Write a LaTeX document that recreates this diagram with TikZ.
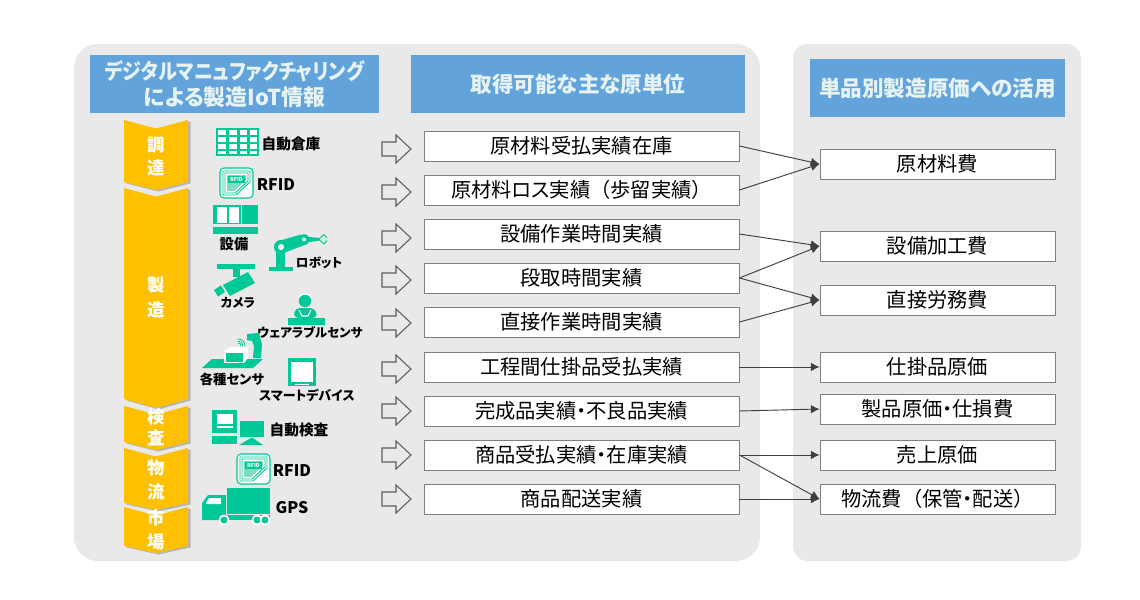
\documentclass[tikz,border=0pt]{standalone}
\usepackage{fontspec}
\setmainfont{Noto Sans CJK JP}[RawFeature={+palt}]
\newfontfamily\fwfont{Noto Sans CJK JP}
\usetikzlibrary{arrows.meta}
\definecolor{panel}{HTML}{E9E9E9}
\definecolor{hdr}{HTML}{62A3DC}
\definecolor{hdrtext}{HTML}{E6F3F2}
\definecolor{chevy}{HTML}{FFC000}
\definecolor{icong}{HTML}{00C896}
\definecolor{edge}{HTML}{7F7F7F}
\definecolor{linkc}{HTML}{404040}
\tikzset{
  panelbox/.style={fill=panel,draw=none},
  hdrbox/.style={fill=hdr,draw=none,inner sep=0pt,align=center,text=hdrtext,font=\fontsize{16.2}{20}\selectfont\bfseries},
  srcbox/.style={draw=edge,line width=.7pt,fill=white,minimum width=236.25pt,minimum height=22.5pt,inner sep=0pt,font=\fontsize{15.2}{18}\selectfont},
  dstbox/.style={draw=edge,line width=.7pt,fill=white,minimum width=176.25pt,minimum height=22.5pt,inner sep=0pt,font=\fontsize{15.2}{18}\selectfont},
  linkline/.style={draw=linkc,line width=.7pt,-{Latex[length=6.5pt,width=6.5pt]}},
  hollow/.style={draw=linkc!85,line width=.8pt,fill=panel},
  chevtext/.style={text=white,align=center,inner sep=0pt,font=\fontsize{13}{15}\selectfont\bfseries},
  iclabel/.style={text=black,inner sep=0pt,font=\fontsize{10}{12}\selectfont\bfseries},
  kanjilabel/.style={iclabel,font=\fontsize{11}{13}\selectfont\bfseries},
  latinlabel/.style={iclabel,font=\fontsize{12}{14}\selectfont\bfseries},
  kanalabel/.style={iclabel,font=\fontsize{9.4}{12}\selectfont\bfseries},
  ic/.style={fill=icong,draw=none},
  icw/.style={fill=white,draw=none},
  chevshadow/.style={fill=black!45,opacity=.55,draw=none},
}
\newcommand{\chevshape}[3]{%
  \fill[chevshadow] (126.5,#1+1.5)--(158.5,#1+10)--(190.5,#1+1.5)--(190.5,#2+1.5)--(158.5,#3+1.5)--(126.5,#2+1.5)--cycle;
  \fill[chevy] (124,#1)--(156,#1+8.5)--(188,#1)--(188,#2)--(156,#3)--(124,#2)--cycle;}
\newcommand{\rfidicon}[2]{%
  \begin{scope}[shift={(#1,#2)}]
    \fill[icw,rounded corners=3pt] (0,0) rectangle (33,30);
    \draw[icong,line width=.8pt,rounded corners=3pt] (0,0) rectangle (33,30);
    \draw[icong,line width=.7pt] (3,3)--(30,3)--(30,14)--(16,27)--(3,27)--cycle;
    \draw[icong,line width=.7pt] (5,5)--(28,5)--(28,13)--(15,25)--(5,25)--cycle;
    \fill[icong!45!panel] (7,7)--(26,7)--(26,12)--(14,23)--(7,23)--cycle;
    \fill[ic] (8,8) rectangle (25,15);
    \node[text=white,inner sep=0pt,font=\fontsize{4}{4}\selectfont\bfseries] at (16.5,11.5) {RFID};
  \end{scope}}
\begin{document}
\begin{tikzpicture}[x=0.75pt,y=-0.75pt]
\useasboundingbox (0,0) rectangle (1140,600);
\fill[white] (0,0) rectangle (1140,600);
% panels
\path[panelbox,rounded corners=18pt] (74,44) rectangle (760,561);
\path[panelbox,rounded corners=11pt] (793,44) rectangle (1081,561);
% headers
\fill[hdr] (90,55) rectangle (379,113);
\node[hdrbox,fill=none] (h1) at (234.5,84) {\scalebox{.88}[1]{デジタルマニュファクチャリング}\\\fontsize{16.4}{20}\selectfont による製造IoT情報};
\node[hdrbox,minimum width=250.5pt,minimum height=43.5pt] (h2) at (578,84) {取得可能な主な原単位};
\node[hdrbox,minimum width=191.25pt,minimum height=43.5pt] (h3) at (937.5,88) {単品別製造原価への活用};
% chevrons
\chevshape{120}{182}{190}
\chevshape{188}{399}{408}
\chevshape{406}{442}{450}
\chevshape{448}{503}{510}
\chevshape{507}{546}{553}
\node[chevtext] (c1) at (156,156.5) {調\\[2.2pt]達};
\node[chevtext] (c2) at (156,297.5) {製\\[3.7pt]造};
\node[chevtext] (c3) at (156,427.5) {検\\[.8pt]査};
\node[chevtext] (c4) at (156,480) {物\\[3pt]流};
\node[chevtext] (c5) at (156,530) {市\\[3pt]場};
% warehouse
\fill[ic] (216,128) rectangle (259,156);
\foreach \xa/\xb in {218/226,229/236.5,239.5/247,250/257}
  \foreach \ya/\yb in {130/135,137/142,143.5/148.5,150.5/154}
    \fill[icw] (\xa,\ya) rectangle (\xb,\yb);
\rfidicon{220}{168}
% equipment
\fill[ic] (213,205) rectangle (258,224);
\fill[ic] (213,227) rectangle (258,234);
\fill[icw] (217,207) rectangle (227,223);
\fill[icw] (229,207) rectangle (239,223);
\draw[panel,line width=.6pt] (241.5,205)--(241.5,224);
% robot
\fill[ic] (269,267) rectangle (293,271);
\fill[ic] (276,247) rectangle (285,267);
\fill[ic] (277,241.5)--(301,234.5)--(307,244)--(285,252.5)--cycle;
\fill[ic] (281,247) circle[radius=7];
\fill[ic] (304,239.5) circle[radius=5.5];
\fill[ic] (304,236.5)--(320,238)--(320,240.5)--(304,243)--cycle;
\fill[icw] (281,247) circle[radius=3];
\fill[icw] (304,239.5) circle[radius=2];
\draw[icong,line width=.7pt] (320,238)--(324,234.5)--(327,238);
\draw[icong,line width=.7pt] (320,240.5)--(324,244)--(327,240.5);
% camera
\fill[ic] (217,264) rectangle (255,269);
\fill[ic] (233,269) rectangle (240,277);
\fill[ic] (223,285)--(248,272)--(255,283)--(230,296)--cycle;
\fill[ic] (214,290)--(221,285.5)--(225,292)--(218,296.5)--cycle;
% wearable
\fill[ic] (305,301) circle[radius=6.2];
\draw[white,line width=.7pt] (298,298) .. controls (300,292.5) and (310,292.5) .. (312,298);
\fill[ic,rounded corners=3pt] (293,316)--(296,308)--(314,308)--(318,316)--(312,318.5)--(299,318.5)--cycle;
\fill[ic] (288,318) rectangle (325,325);
\draw[white,line width=.8pt] (299,310)--(302,316)--(308,316)--(311,310);
% sensors
\fill[ic] (202,368)--(212,359)--(263,359)--(253,368)--cycle;
\fill[ic] (247,334)--(259,333)--(262,345)--(261,358)--(253,358)--(254,346)--(252,341)--(247,340)--cycle;
\fill[icw] (224,351)--(230,347)--(248,347)--(244,351)--cycle;
\fill[icw] (244,351)--(248,347)--(248,358)--(244,363)--cycle;
\fill[icw] (224,351) rectangle (244,363);
\fill[ic] (225.5,352.5) rectangle (242.5,361.5);
\draw[icong,line width=.6pt] (238,343) .. controls (240,343) and (241,344) .. (241,346);
\draw[icong,line width=.6pt] (238,341) .. controls (241,341) and (243,343) .. (243,346);
\draw[icong,line width=.6pt] (238,339) .. controls (242,339) and (245,342) .. (245,346);
% smart device
\fill[ic] (288,358) rectangle (316,386);
\fill[icw] (291,362) rectangle (313,382);
\fill[icw] (295,383.5) rectangle (309,385);
% automatic inspection
\fill[ic] (212,410) rectangle (237,433);
\fill[ic] (212,436) rectangle (237,444);
\fill[icw] (217,414) rectangle (233,424);
\fill[icw] (217,426) rectangle (233,428);
\fill[ic] (240,421) rectangle (264,437);
\fill[ic] (239,445)--(252,437.5)--(263,445)--cycle;
\rfidicon{237}{454}
% truck
\fill[ic] (227,488) rectangle (270,514);
\fill[ic] (202,520)--(202,503)--(208,495)--(226,495)--(226,520)--cycle;
\fill[ic] (226,515) rectangle (270,520);
\fill[icw] (206,503)--(209,498)--(221,498)--(221,504)--(206,504)--cycle;
\foreach \wx in {224,257,265}{
  \fill[icw] (\wx,520) circle[radius=5.5];
  \fill[ic] (\wx,520) circle[radius=3.5];}
% icon labels
\node[kanjilabel] (l1) at (291,144) {自動倉庫};
\node[latinlabel] (l2) at (276,185) {RFID};
\node[kanjilabel,font=\fontsize{10.7}{13}\selectfont\bfseries] (l3) at (234,244) {設備};
\node[kanalabel] (l4) at (319,263) {ロボット};
\node[kanalabel] (l5) at (238,303) {カメラ};
\node[kanalabel] (l6) at (310,332) {ウェアラブルセンサ};
\node[iclabel] (l7) at (232,379) {各種センサ};
\node[kanalabel,font=\fontsize{9.7}{12}\selectfont\bfseries] (l8) at (307,395) {スマートデバイス};
\node[kanjilabel] (l9) at (299,430) {自動検査};
\node[latinlabel] (l10) at (292,471) {RFID};
\node[latinlabel] (l11) at (292,508) {GPS};
% hollow arrows
\foreach \ay in {149,192,238,280,323,369,411,455,499}
  \path[hollow] (382,\ay-7)--(396,\ay-7)--(396,\ay-14)--(411,\ay)--(396,\ay+14)--(396,\ay+7)--(382,\ay+7)--cycle;
% source boxes
\node[srcbox] (a1) at (581.5,146) {原材料受払実績在庫};
\node[srcbox] (a2) at (581.5,190) {原材料ロス実績{\fwfont（}歩留実績{\fwfont）}};
\node[srcbox] (a3) at (581.5,234) {設備作業時間実績};
\node[srcbox] (a4) at (581.5,278) {段取時間実績};
\node[srcbox] (a5) at (581.5,322) {直接作業時間実績};
\node[srcbox] (a6) at (581.5,367) {工程間仕掛品受払実績};
\node[srcbox] (a7) at (581.5,411) {完成品実績・不良品実績};
\node[srcbox] (a8) at (581.5,455) {商品受払実績・在庫実績};
\node[srcbox] (a9) at (581.5,499) {商品配送実績};
% destination boxes
\node[dstbox] (b1) at (937.5,164) {原材料費};
\node[dstbox] (b2) at (937.5,246) {設備加工費};
\node[dstbox] (b3) at (937.5,300) {直接労務費};
\node[dstbox] (b4) at (937.5,367) {仕掛品原価};
\node[dstbox] (b5) at (937.5,409) {製品原価・仕損費};
\node[dstbox] (b6) at (937.5,455) {売上原価};
\node[dstbox] (b7) at (937.5,499) {物流費{\fwfont（}保管・配送{\fwfont）}};
% connectors
\draw[linkline] (a1.east)--(b1.west);
\draw[linkline] (a2.east)--(b1.west);
\draw[linkline] (a3.east)--(b2.west);
\draw[linkline] (a4.east)--(b2.west);
\draw[linkline] (a4.east)--(b3.west);
\draw[linkline] (a5.east)--(b3.west);
\draw[linkline] (a6.east)--(b4.west);
\draw[linkline] (a7.east)--(b5.west);
\draw[linkline] (a8.east)--(b6.west);
\draw[linkline] (a8.east)--(b7.west);
\draw[linkline] (a9.east)--(b7.west);
\end{tikzpicture}
\end{document}
